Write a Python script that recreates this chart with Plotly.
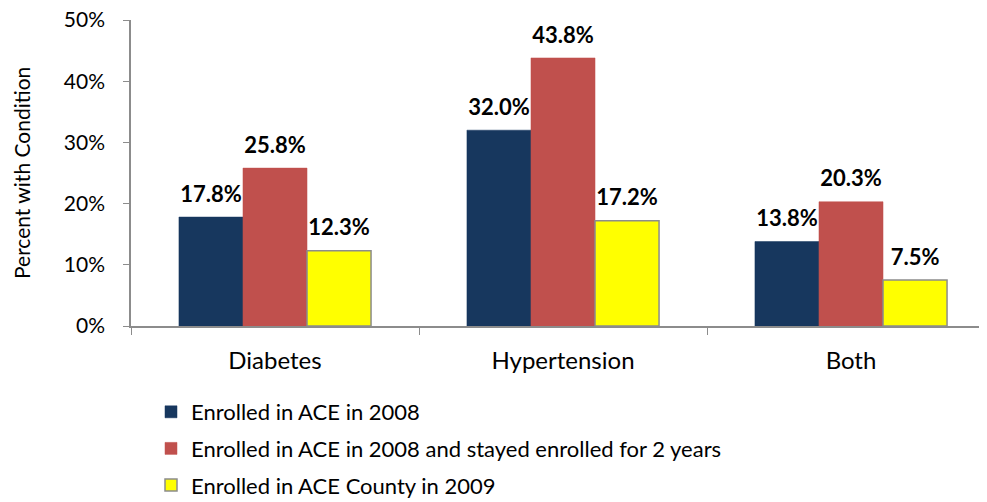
import plotly.graph_objects as go

categories = ["Diabetes", "Hypertension", "Both"]
series_names = [
    "Enrolled in ACE in 2008",
    "Enrolled in ACE in 2008 and stayed enrolled for 2 years",
    "Enrolled in ACE County in 2009",
]
enrolled_2008 = [17.8, 32.0, 13.8]
stayed_2yrs = [25.8, 43.8, 20.3]
county_2009 = [12.3, 17.2, 7.5]
y_ticks = [0, 10, 20, 30, 40, 50]
y_tick_labels = ["0%", "10%", "20%", "30%", "40%", "50%"]
y_title = "Percent with Condition"

colors = ["#17375E", "#C0504D", "#FFFF00"]
outlines = ["#17375E", "#C0504D", "#8C8C8C"]
FONT = "Lato, 'Open Sans', sans-serif"

fig = go.Figure()
for i, (name, vals) in enumerate(zip(series_names, [enrolled_2008, stayed_2yrs, county_2009])):
    fig.add_trace(go.Bar(
        x=categories, y=vals, name=name,
        marker=dict(color=colors[i], line=dict(color=outlines[i], width=1.5 if i == 2 else 0.5)),
        text=[f"{v:.1f}%" for v in vals],
        texttemplate="<span style='font-size:22px'>%{text}</span><br> ",
        textposition="outside", constraintext="none",
        textfont=dict(family=FONT, size=8, color="black", weight="bold"),
        cliponaxis=False, legendgroup=f"g{i}",
    ))

fig.update_layout(
    width=987, height=502,
    margin=dict(l=123, r=0, t=12, b=184, autoexpand=False),
    plot_bgcolor="white", paper_bgcolor="white",
    barmode="group", bargap=0.333, bargroupgap=0,
    font=dict(family=FONT, size=21, color="black"),
    showlegend=True,
    legend=dict(
        x=143 / 987, xref="container", y=1 - 383 / 502, yref="container",
        yanchor="top", xanchor="left",
        orientation="v", traceorder="grouped", tracegroupgap=5,
        font=dict(family=FONT, size=22, color="black"),
        itemwidth=30,
    ),
    uniformtext=dict(mode=False),
    annotations=[dict(
        text=y_title, textangle=-90, showarrow=False,
        xref="paper", yref="paper", x=(13 - 123) / (987 - 123), y=0.5,
        xanchor="center", yanchor="middle",
        font=dict(family=FONT, size=21, color="black"),
    )],
)
fig.update_xaxes(
    type="category", range=[-0.5, 2.5], automargin=False,
    showline=True, linecolor="#8C8C8C", linewidth=1.5,
    ticks="outside", tickson="boundaries", ticklen=7, tickcolor="#8C8C8C",
    tickfont=dict(family=FONT, size=24), showgrid=False,
    ticklabelstandoff=12, ticklabeloverflow="allow",
)
fig.update_yaxes(
    range=[0, 50], tickvals=y_ticks, ticktext=y_tick_labels, automargin=False,
    showline=True, linecolor="#8C8C8C", linewidth=1.5,
    ticks="outside", ticklen=6, tickcolor="#8C8C8C",
    showgrid=False, zeroline=False,
    tickfont=dict(family=FONT, size=21),
    ticklabelstandoff=14, ticklabeloverflow="allow",
)
fig.write_html("out.html")
